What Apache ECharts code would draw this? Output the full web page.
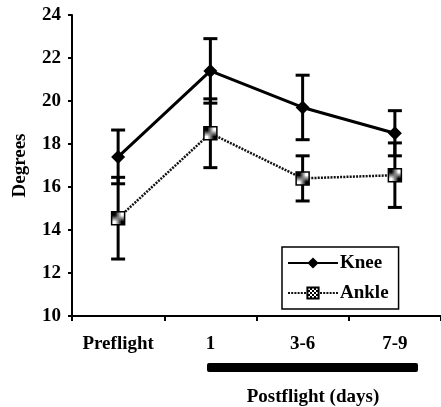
<!DOCTYPE html>
<html><head><meta charset="utf-8">
<script src="https://cdn.jsdelivr.net/npm/echarts@6/dist/echarts.min.js"></script>
<style>html,body{margin:0;padding:0;background:#fff}#c{width:441px;height:407px}</style>
</head><body><div id="c"></div>
<script>
const categories = ['Preflight', '1', '3-6', '7-9'];
const kneeMean = [17.4, 21.4, 19.7, 18.5];
const kneeErr = [1.25, 1.5, 1.5, 1.05];
const ankleMean = [14.55, 18.5, 16.4, 16.55];
const ankleErr = [1.9, 1.6, 1.05, 1.5];
const yMin = 10, yMax = 24, yStep = 2;
const yTitle = 'Degrees';
const xTitle = 'Postflight (days)';

const FONT = '"Liberation Serif", "Times New Roman", serif';

function errData(mean, err) {
  return mean.map((m, i) => [i, m - err[i], m + err[i]]);
}
function errRender(params, api) {
  const x = api.value(0);
  const lo = api.coord([x, api.value(1)]);
  const hi = api.coord([x, api.value(2)]);
  const w = 7;
  const style = { stroke: '#000', lineWidth: 3 };
  return { type: 'group', children: [
    { type: 'line', shape: { x1: hi[0], y1: hi[1], x2: lo[0], y2: lo[1] }, style },
    { type: 'line', shape: { x1: hi[0] - w, y1: hi[1], x2: hi[0] + w, y2: hi[1] }, style },
    { type: 'line', shape: { x1: lo[0] - w, y1: lo[1], x2: lo[0] + w, y2: lo[1] }, style }
  ]};
}
const pc = document.createElement('canvas');
pc.width = 4; pc.height = 4;
const pctx = pc.getContext('2d');
pctx.fillStyle = '#fff'; pctx.fillRect(0, 0, 4, 4);
pctx.fillStyle = '#000';
pctx.fillRect(0, 0, 2, 2); pctx.fillRect(2, 2, 2, 2);

const chart = echarts.init(document.getElementById('c'), null, { renderer: 'canvas' });
chart.setOption({
  animation: false,
  backgroundColor: '#fff',
  grid: { left: 72, right: -7, top: 15, bottom: 91, containLabel: false },
  xAxis: {
    type: 'category', data: categories, boundaryGap: true,
    axisLine: { lineStyle: { color: '#000', width: 2 } },
    axisTick: { show: true, interval: 0, length: 5, lineStyle: { color: '#000', width: 2 } },
    axisLabel: { interval: 0, hideOverlap: false, color: '#000', fontFamily: FONT, fontWeight: 'bold', fontSize: 19, margin: 19 },
    splitLine: { show: false }
  },
  yAxis: {
    type: 'value', min: yMin, max: yMax, interval: yStep,
    name: yTitle, nameLocation: 'middle', nameGap: 42, nameRotate: 90,
    nameTextStyle: { color: '#000', fontFamily: FONT, fontWeight: 'bold', fontSize: 19 },
    axisLine: { show: true, lineStyle: { color: '#000', width: 2 } },
    axisTick: { show: true, length: 4, lineStyle: { color: '#000', width: 2 } },
    axisLabel: { color: '#000', fontFamily: FONT, fontWeight: 'bold', fontSize: 19, margin: 11 },
    splitLine: { show: false }
  },
  legend: {
    data: ['Knee', 'Ankle'], orient: 'vertical', left: 282, top: 247,
    padding: [6, 10, 6, 5], itemGap: 10, itemWidth: 50, itemHeight: 14,
    borderColor: '#000', borderWidth: 1.5, backgroundColor: '#fff',
    textStyle: { color: '#000', fontFamily: FONT, fontWeight: 'bold', fontSize: 19, lineHeight: 20, padding: [0, 0, 0, -3] }
  },
  series: [
    { type: 'custom', name: 'kneeErr', data: errData(kneeMean, kneeErr), renderItem: errRender, encode: { x: 0, y: [1, 2] }, z: 1, silent: true },
    { type: 'custom', name: 'ankleErr', data: errData(ankleMean, ankleErr), renderItem: errRender, encode: { x: 0, y: [1, 2] }, z: 1, silent: true },
    { type: 'line', name: 'Knee', data: kneeMean, symbol: 'diamond', symbolSize: 14,
      lineStyle: { color: '#000', width: 3 }, itemStyle: { color: '#000' }, z: 3 },
    { type: 'line', name: 'Ankle', data: ankleMean, symbol: 'rect', symbolSize: 13,
      lineStyle: { color: '#111', width: 2.5, type: [2, 1.2] },
      itemStyle: { color: { image: pc, repeat: 'repeat' }, borderColor: '#000', borderWidth: 1.5 }, z: 3 }
  ],
  graphic: [
    { type: 'rect', shape: { x: 207, y: 363, width: 211, height: 9, r: 2 }, style: { fill: '#000' } },
    { type: 'text', style: { x: 313, y: 397, text: xTitle, fill: '#000', font: 'bold 19px ' + FONT, align: 'center', verticalAlign: 'middle' } }
  ]
});
</script></body></html>
